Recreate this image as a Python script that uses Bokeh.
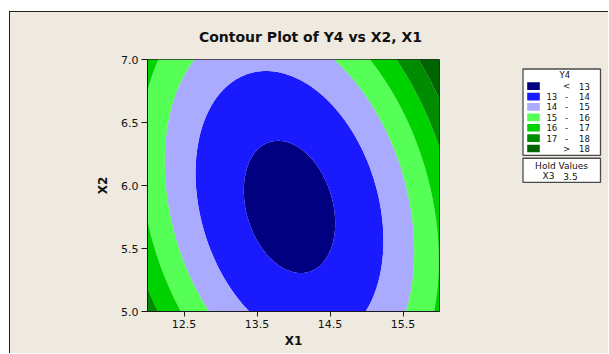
import numpy as np
from bokeh.plotting import figure
from bokeh.layouts import row, column, Spacer
from bokeh.models import Range1d, FixedTicker, PrintfTickFormatter
from bokeh.core.properties import value
from bokeh.embed import file_html
from bokeh.resources import INLINE

# ---------------- data ----------------
# fitted response surface at hold value X3 = 3.5:
# Y4 = b0 + a11*(X1-c1)^2 + a22*(X2-c2)^2 + a12*(X1-c1)*(X2-c2)
surface_center = [13.945, 5.83]          # c1, c2
surface_b0 = 12.69
surface_a11 = 0.843
surface_a22 = 1.20
surface_a12 = 0.50
x1_limits = [12.0, 16.0]
x2_limits = [5.0, 7.0]
contour_levels = [13, 14, 15, 16, 17, 18]
band_colors = ["#000080", "#1A1AFF", "#AAAAFF", "#55FF55", "#00D200", "#008C00", "#006400"]
legend_low = ["", "13", "14", "15", "16", "17", ""]
legend_mid = ["<", "-", "-", "-", "-", "-", ">"]
legend_high = ["13", "14", "15", "16", "17", "18", "18"]
x_ticks = [12.5, 13.5, 14.5, 15.5]
y_ticks = [5.0, 5.5, 6.0, 6.5, 7.0]
hold_names = ["X3"]
hold_values = ["3.5"]

title_text = "Contour Plot of Y4 vs X2, X1"
BG = "#EEEAE0"
EDGE_COLOR = "#202020"
FONT = "DejaVu Sans"

# ---------------- surface grid ----------------
gx = np.linspace(x1_limits[0], x1_limits[1], 401)
gy = np.linspace(x2_limits[0], x2_limits[1], 201)
XX, YY = np.meshgrid(gx, gy)
U = XX - surface_center[0]
V = YY - surface_center[1]
Z = surface_b0 + surface_a11 * U**2 + surface_a22 * V**2 + surface_a12 * U * V
levels = [float(Z.min()) - 1.0] + contour_levels + [float(Z.max()) + 1.0]

W_MAIN, W_LEG, H_TITLE, H = 490, 108, 36, 305
W_ALL = W_MAIN + W_LEG

# ---------------- title strip ----------------
tf = figure(width=W_ALL, height=H_TITLE, x_range=Range1d(0, W_ALL), y_range=Range1d(H_TITLE, 0),
            x_axis_type=None, y_axis_type=None, output_backend="svg", toolbar_location=None,
            min_border=0, background_fill_color=BG, border_fill_color=BG, outline_line_color=None)
tf.text(x=[300], y=[24], text=[title_text], text_align="center", text_baseline="middle",
        text_font=value(FONT), text_font_size="14px", text_font_style="bold",
        text_color="#111111")

# ---------------- main plot ----------------
p = figure(width=W_MAIN, height=H,
           x_range=Range1d(*x1_limits), y_range=Range1d(*x2_limits),
           output_backend="svg", toolbar_location=None,
           min_border_left=137, min_border_right=61,
           min_border_top=11, min_border_bottom=42,
           background_fill_color=BG, border_fill_color=BG)

p.contour(gx, gy, Z, levels=levels, fill_color=band_colors, line_color=None)

p.grid.visible = False
p.outline_line_color = "#2a2a2a"
p.outline_line_width = 1

for ax in (p.xaxis[0], p.yaxis[0]):
    ax.axis_line_color = "#1a1a1a"
    ax.major_tick_line_color = "#1a1a1a"
    ax.minor_tick_line_color = None
    ax.major_tick_in = 0
    ax.major_label_text_font = FONT
    ax.major_label_text_font_size = "11px"
    ax.major_label_text_color = "#111111"
    ax.major_label_standoff = 3
    ax.axis_label_text_font = FONT
    ax.axis_label_text_font_size = "12px"
    ax.axis_label_text_font_style = "bold"
    ax.axis_label_text_color = "#111111"
    ax.formatter = PrintfTickFormatter(format="%.1f")

p.xaxis[0].ticker = FixedTicker(ticks=x_ticks)
p.yaxis[0].ticker = FixedTicker(ticks=y_ticks)
p.xaxis[0].major_tick_out = 5
p.yaxis[0].major_tick_out = 6
p.xaxis[0].axis_label = "X1"
p.yaxis[0].axis_label = "X2"
p.xaxis[0].axis_label_standoff = 3
p.yaxis[0].axis_label_standoff = 8

# ---------------- legend panel ----------------
lg = figure(width=W_LEG, height=H, x_range=Range1d(0, W_LEG), y_range=Range1d(H, 0),
            x_axis_type=None, y_axis_type=None,
            output_backend="svg", toolbar_location=None, min_border=0,
            background_fill_color=BG, border_fill_color=BG, outline_line_color=None)

box_left, box_right = 22.5, 100.0
lg.quad(left=[box_left], right=[box_right], top=[11.5], bottom=[116.0],
        fill_color="white", line_color="#4a4a4a", line_width=1.3)
lg.quad(left=[box_left], right=[box_right], top=[119.5], bottom=[148.8],
        fill_color="white", line_color="#4a4a4a", line_width=1.3)

n = len(band_colors)
row_y = [32.3 + 12.57 * i for i in range(n)]
lg.rect(x=[33.0] * n, y=row_y, width=12.6, height=9.3,
        fill_color=band_colors, line_color=None)

common = dict(text_baseline="middle", text_font=value(FONT), text_font_size="8.5px",
              text_color="#111111")
lg.text(x=[64.3], y=[18.7], text=["Y4"], text_align="center", **common)
lg.text(x=[56.7] * n, y=row_y, text=legend_low, text_align="right", **common)
lg.text(x=[66.0] * n, y=row_y, text=legend_mid, text_align="center", **common)
lg.text(x=[89.3] * n, y=row_y, text=legend_high, text_align="right", **common)

hold = dict(text_baseline="middle", text_font=value(FONT), text_font_size="9px",
            text_color="#111111")
lg.text(x=[61.0], y=[129.3], text=["Hold Values"], text_align="center", **hold)
lg.text(x=[48.0], y=[141.3], text=hold_names, text_align="center", **hold)
lg.text(x=[70.0], y=[141.3], text=hold_values, text_align="center", **hold)

# ---------------- frame lines (top / left) and assembly ----------------
bg_style = {"background-color": BG}
top_line = Spacer(width=W_ALL + 1, height=1, styles={"background-color": EDGE_COLOR})
left_line = Spacer(width=1, height=H_TITLE + H, styles={"background-color": EDGE_COLOR})
body = column(tf, row(p, lg, styles=bg_style), styles=bg_style)
layout = column(top_line, row(left_line, body), margin=(11, 0, 0, 9))

open("out.html", "w").write(file_html(layout, INLINE))
